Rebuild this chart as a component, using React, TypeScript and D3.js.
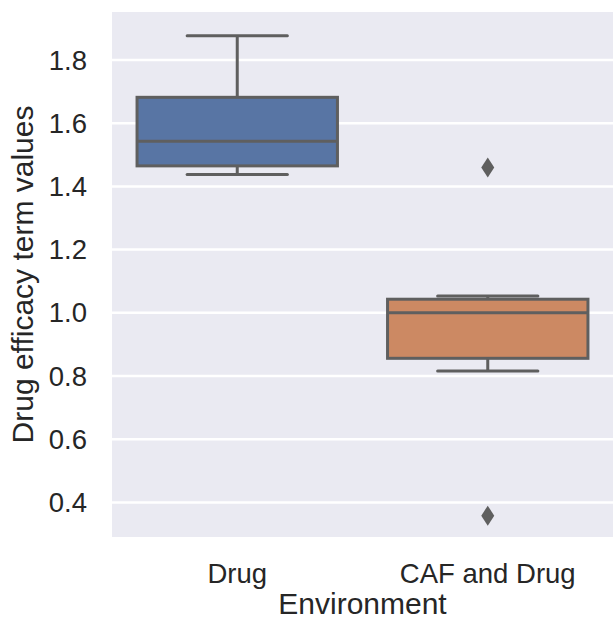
import React from "react";
import * as d3 from "d3";

// box stats
const categories = ["Drug", "CAF and Drug"];
const whiskerLow = [1.438, 0.816];
const q1 = [1.465, 0.856];
const median = [1.543, 1.0];
const q3 = [1.682, 1.043];
const whiskerHigh = [1.877, 1.053];
const outliers = [[], [1.46, 0.358]];
const boxColors = ["#5875a4", "#cc8963"];
const yTicks = [0.4, 0.6, 0.8, 1.0, 1.2, 1.4, 1.6, 1.8];

export default function App() {
  const width = 613;
  const height = 620;
  const margin = { top: 12, right: 0, bottom: 83, left: 112 };
  const innerW = width - margin.left - margin.right;
  const innerH = height - margin.top - margin.bottom;

  const x = d3.scaleBand().domain(categories).range([0, innerW]);
  const y = d3.scaleLinear().domain([0.2905, 1.952]).range([innerH, 0]);

  const line = "#5f5f5f";
  const boxW = x.bandwidth() * 0.8;
  const font = "'Liberation Sans', Arial, sans-serif";

  return (
    <svg width={width} height={height} style={{ position: "absolute", left: 0, top: 0 }} fontFamily={font}>
      <rect x={0} y={0} width={width} height={height} fill="#fff" />
      <g transform={`translate(${margin.left},${margin.top})`}>
        <rect width={innerW} height={innerH} fill="#eaeaf2" />
        {yTicks.map((t) => (
          <g key={t}>
            <line x1={0} x2={innerW} y1={y(t)} y2={y(t)} stroke="#fff" strokeWidth={2.5} />
            <text x={-25} y={y(t)} dy="0.35em" textAnchor="end" fontSize={27.5} fill="#262626">
              {d3.format(".1f")(t)}
            </text>
          </g>
        ))}
        {categories.map((c, i) => {
          const cx = x(c)! + x.bandwidth() / 2;
          const l = cx - boxW / 2;
          return (
            <g key={c}>
              <line x1={cx} x2={cx} y1={y(q3[i])} y2={y(whiskerHigh[i])} stroke={line} strokeWidth={3} />
              <line x1={cx} x2={cx} y1={y(q1[i])} y2={y(whiskerLow[i])} stroke={line} strokeWidth={3} />
              <line x1={cx - boxW / 4} x2={cx + boxW / 4} y1={y(whiskerHigh[i])} y2={y(whiskerHigh[i])} stroke={line} strokeWidth={3} strokeLinecap="round" />
              <line x1={cx - boxW / 4} x2={cx + boxW / 4} y1={y(whiskerLow[i])} y2={y(whiskerLow[i])} stroke={line} strokeWidth={3} strokeLinecap="round" />
              <rect x={l} y={y(q3[i])} width={boxW} height={y(q1[i]) - y(q3[i])} fill={boxColors[i]} stroke={line} strokeWidth={3} />
              <line x1={l} x2={l + boxW} y1={y(median[i])} y2={y(median[i])} stroke={line} strokeWidth={3} />
              {outliers[i].map((o, j) => (
                <path key={j} d={`M${cx},${y(o) - 10}L${cx + 6.5},${y(o)}L${cx},${y(o) + 10}L${cx - 6.5},${y(o)}Z`} fill={line} />
              ))}
              <text x={cx} y={innerH + 46} textAnchor="middle" fontSize={27.5} fill="#262626">
                {c}
              </text>
            </g>
          );
        })}
        <text x={innerW / 2} y={innerH + 77} textAnchor="middle" fontSize={30} fill="#262626">
          Environment
        </text>
        <text transform={`translate(${-79},${innerH / 2}) rotate(-90)`} textAnchor="middle" fontSize={30} fill="#262626">
          Drug efficacy term values
        </text>
      </g>
    </svg>
  );
}
